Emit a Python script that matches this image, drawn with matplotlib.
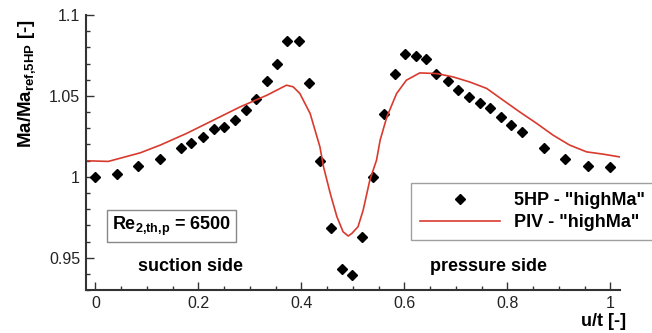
import matplotlib
matplotlib.use('Agg')
import matplotlib.pyplot as plt
from matplotlib.ticker import MultipleLocator

plt.rcParams['font.family'] = ['Liberation Sans', 'DejaVu Sans']
plt.rcParams['mathtext.fontset'] = 'custom'
plt.rcParams['mathtext.rm'] = 'Liberation Sans'
plt.rcParams['mathtext.bf'] = 'Liberation Sans:bold'

# 5HP probe measurements
hp_x = [0.0, 0.042, 0.083, 0.126, 0.167, 0.186, 0.209, 0.230, 0.250, 0.271,
        0.292, 0.312, 0.333, 0.352, 0.373, 0.395, 0.415, 0.436, 0.457, 0.478,
        0.499, 0.518, 0.539, 0.561, 0.581, 0.601, 0.622, 0.643, 0.662, 0.684,
        0.704, 0.726, 0.747, 0.767, 0.787, 0.808, 0.828, 0.871, 0.913, 0.956,
        0.999]
hp_y = [1.000, 1.002, 1.0066, 1.0110, 1.0179, 1.0210, 1.0243, 1.0293, 1.0309, 1.0354,
        1.0412, 1.0478, 1.0593, 1.0696, 1.0839, 1.0839, 1.0580, 1.0100, 0.9682, 0.9429,
        0.9392, 0.9626, 0.9996, 1.0391, 1.0638, 1.0761, 1.0747, 1.0725, 1.0638, 1.0593,
        1.0539, 1.0492, 1.0457, 1.0426, 1.0370, 1.0323, 1.0276, 1.0177, 1.0107, 1.0066,
        1.0058]

# PIV trace
piv_x = [-0.019, 0.025, 0.087, 0.126, 0.177, 0.229, 0.281, 0.333, 0.371, 0.384,
         0.397, 0.417, 0.436, 0.443, 0.456, 0.469, 0.481, 0.491, 0.498, 0.510,
         0.520, 0.533, 0.546, 0.553, 0.566, 0.585, 0.604, 0.630, 0.663, 0.695,
         0.727, 0.760, 0.792, 0.824, 0.857, 0.889, 0.921, 0.954, 0.986, 1.018]
piv_y = [1.0099, 1.0095, 1.0148, 1.0196, 1.0268, 1.0350, 1.0432, 1.0504, 1.0566, 1.0556,
         1.0515, 1.0391, 1.0185, 1.0062, 0.9898, 0.9753, 0.9660, 0.9634, 0.9650, 0.9691,
         0.9794, 0.9980, 1.0103, 1.0227, 1.0370, 1.0515, 1.0597, 1.0642, 1.0638, 1.0617,
         1.0586, 1.0546, 1.0473, 1.0401, 1.0330, 1.0257, 1.0196, 1.0154, 1.0140, 1.0123]

fig = plt.figure(figsize=(6.52, 3.33), dpi=100)
ax = fig.add_axes([0.1314, 0.129, 0.8196, 0.826])

ax.plot(hp_x, hp_y, linestyle='none', marker='D', markersize=5.2, color='black',
        label='5HP - "highMa"')
ax.plot(piv_x, piv_y, color='#d93a2e', linewidth=1.2, label='PIV - "highMa"')

ax.set_xlim(-0.019, 1.019)
ax.set_ylim(0.93, 1.1)
ax.xaxis.set_minor_locator(MultipleLocator(0.05))
ax.yaxis.set_minor_locator(MultipleLocator(0.01))
ax.set_xticks([0, 0.2, 0.4, 0.6, 0.8, 1.0])
ax.set_xticklabels(['0', '0.2', '0.4', '0.6', '0.8', '1'])
ax.set_yticks([0.95, 1.0, 1.05, 1.1])
ax.set_yticklabels(['0.95', '1', '1.05', '1.1'])
ax.tick_params(which='both', direction='in', labelsize=11.5, color='#333333', width=1,
               labelcolor='#222222')
ax.tick_params(which='major', length=6, pad=4)
ax.tick_params(which='minor', length=3)
for s in ['top', 'right']:
    ax.spines[s].set_visible(False)
for s in ['left', 'bottom']:
    ax.spines[s].set_linewidth(1.5)
    ax.spines[s].set_color('#333333')

fig.text(0.043, 0.75, r'Ma/Ma$_\mathbf{ref{,}5HP}$ [-]', rotation=90, fontsize=13.5,
         fontweight='bold', ha='center', va='center')
fig.text(0.96, 0.034, 'u/t [-]', fontsize=13, fontweight='bold', ha='right', va='center')

ax.text(0.184, 0.9444, 'suction side', fontsize=13, fontweight='bold', ha='center', va='center')
ax.text(0.763, 0.9444, 'pressure side', fontsize=13, fontweight='bold', ha='center', va='center')
ax.text(0.1475, 0.9696, r'Re$_\mathbf{2{,}th{,}p}$ = 6500', fontsize=13, fontweight='bold',
        ha='center', va='center',
        bbox=dict(boxstyle='square,pad=0.25', facecolor='white', edgecolor='#888888', linewidth=1))

leg = ax.legend(loc='upper left', bbox_to_anchor=(0.631, 0.4495), bbox_transform=fig.transFigure,
                prop={'size': 13, 'weight': 'bold'}, frameon=True, fancybox=False,
                handlelength=4.4, handletextpad=0.8, labelspacing=0.25, borderpad=0.5,
                borderaxespad=0, numpoints=1)
leg.get_frame().set_edgecolor('#888888')
leg.get_frame().set_linewidth(1)

fig.savefig('out.png', dpi=100)
